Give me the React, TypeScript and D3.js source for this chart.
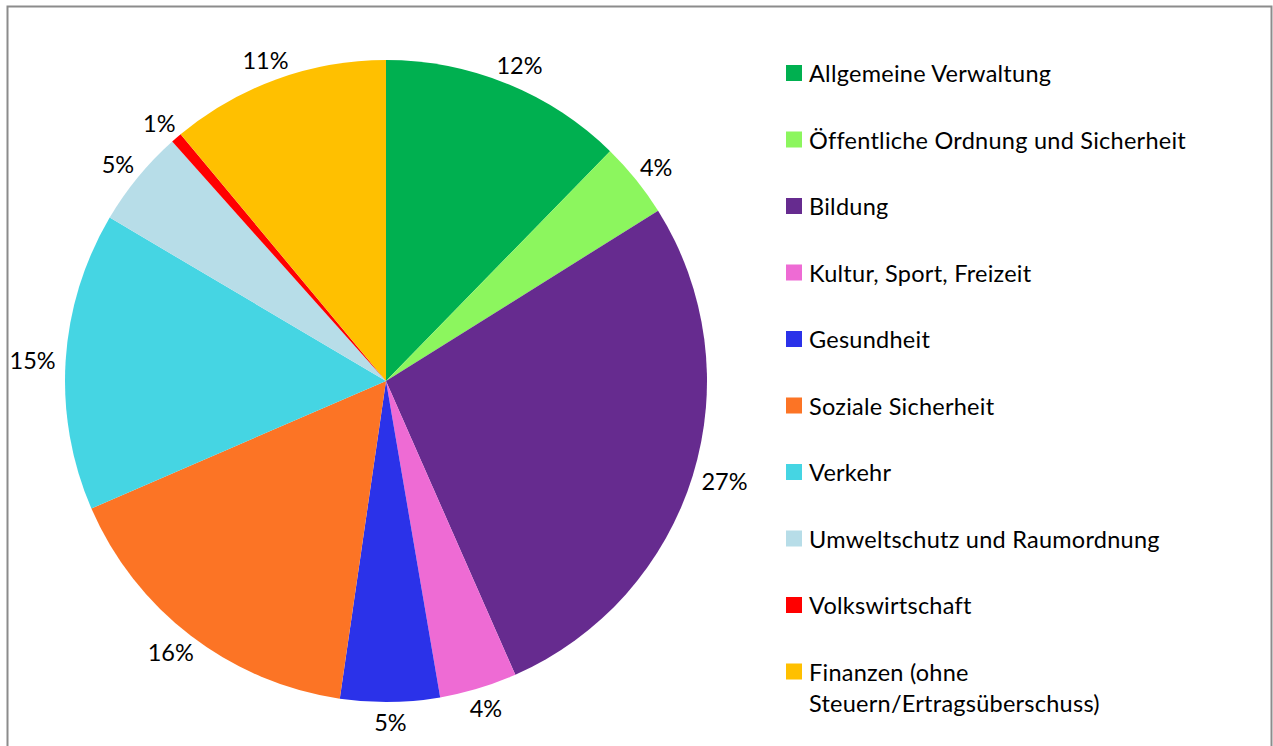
import { useMemo } from 'react';
import { pie, arc, PieArcDatum } from 'd3';

const categories = [
  'Allgemeine Verwaltung',
  'Öffentliche Ordnung und Sicherheit',
  'Bildung',
  'Kultur, Sport, Freizeit',
  'Gesundheit',
  'Soziale Sicherheit',
  'Verkehr',
  'Umweltschutz und Raumordnung',
  'Volkswirtschaft',
  'Finanzen (ohne Steuern/Ertragsüberschuss)',
];
const shares = [12.3, 3.8, 27.3, 3.9, 5.0, 16.2, 15.0, 4.9, 0.55, 11.05];
const colors = [
  '#00B050', '#8CF65E', '#662B8F', '#EE6BD4', '#2B32E9',
  '#FC7425', '#45D5E3', '#B7DDE8', '#FF0000', '#FFC000',
];
// legend lines (last entry wraps like the original)
const legendLines = [
  ['Allgemeine Verwaltung'],
  ['Öffentliche Ordnung und Sicherheit'],
  ['Bildung'],
  ['Kultur, Sport, Freizeit'],
  ['Gesundheit'],
  ['Soziale Sicherheit'],
  ['Verkehr'],
  ['Umweltschutz und Raumordnung'],
  ['Volkswirtschaft'],
  ['Finanzen (ohne', 'Steuern/Ertragsüberschuss)'],
];

const W = 1273;
const H = 746;
const cx = 386;
const cy = 381;
const R = 321;
const FONT = "Lato, 'Open Sans', sans-serif";
const FS = 23.5;

type Slice = { name: string; value: number; color: string };

export default function App() {
  const data: Slice[] = categories.map((name, i) => ({ name, value: shares[i], color: colors[i] }));
  const total = shares.reduce((a, b) => a + b, 0);

  const arcs = useMemo(
    () => pie<Slice>().sort(null).value(d => d.value).startAngle(0).endAngle(2 * Math.PI)(data),
    []
  );
  const pathGen = arc<PieArcDatum<Slice>>().innerRadius(0).outerRadius(R);

  // outside-end label: push the text box out along the slice's mid angle
  const labelPos = (a: PieArcDatum<Slice>, text: string) => {
    const mid = (a.startAngle + a.endAngle) / 2;
    const s = Math.sin(mid);
    const c = -Math.cos(mid);
    const w = text.length * FS * 0.6;
    const h = FS * 0.7;
    const r = R + 12;
    return { x: r * s + (w / 2) * s, y: r * c + (h / 2) * c };
  };

  return (
    <svg width={W} height={H} style={{ position: 'absolute', left: 0, top: 0 }} fontFamily={FONT}>
      <rect x={0} y={0} width={W} height={H} fill="#fff" />
      <rect x={7.5} y={6.5} width={1264} height={800} fill="none" stroke="#8c8c8c" strokeWidth={2} />
      <g transform={`translate(${cx},${cy})`}>
        {arcs.map((a, i) => (
          <path key={i} d={pathGen(a) ?? ''} fill={a.data.color} />
        ))}
        {arcs.map((a, i) => {
          const t = `${Math.round((a.data.value / total) * 100)}%`;
          const p = labelPos(a, t);
          return (
            <text key={i} x={p.x} y={p.y} textAnchor="middle" dominantBaseline="central" fontSize={FS} fill="#000">
              {t}
            </text>
          );
        })}
      </g>
      <g transform="translate(786,0)">
        {legendLines.map((lines, i) => {
          const yc = 73 + i * 66.5;
          return (
            <g key={i}>
              <rect x={0} y={yc - 8} width={16} height={16} fill={colors[i]} />
              {lines.map((l, j) => (
                <text key={j} x={23} y={yc + 9 + j * 31} fontSize={FS} letterSpacing={0.25} fill="#000">
                  {l}
                </text>
              ))}
            </g>
          );
        })}
      </g>
    </svg>
  );
}
